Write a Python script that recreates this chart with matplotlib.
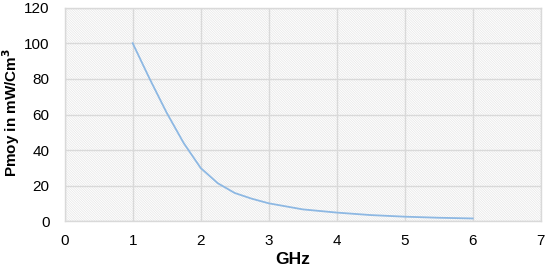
import numpy as np
import matplotlib
matplotlib.use("Agg")
import matplotlib.pyplot as plt
from matplotlib.patches import Rectangle

plt.rcParams['font.family'] = ['Liberation Sans', 'DejaVu Sans']
plt.rcParams['hatch.linewidth'] = 0.5
plt.rcParams['hatch.color'] = '#e6e6e6'

# valeurs
ghz = [1, 1.25, 1.5, 1.75, 2, 2.25, 2.5, 2.75, 3, 3.5, 4, 4.5, 5, 5.5, 6]
pmoy = [100, 80, 61, 44, 30, 21.5, 16, 12.8, 10.2, 6.8, 5, 3.6, 2.7, 2.1, 1.7]

xticks = [0, 1, 2, 3, 4, 5, 6, 7]
yticks = [0, 20, 40, 60, 80, 100, 120]

fig = plt.figure(figsize=(5.48, 2.69), dpi=100)
ax = fig.add_axes([0.118, 0.1766, 0.8687, 0.7954])

# fond hachuré
ax.add_patch(Rectangle((0, 0), 1, 1, transform=ax.transAxes, facecolor='white',
                       edgecolor='#e6e6e6', hatch='\\' * 14, linewidth=0, zorder=0))

ax.plot(ghz, pmoy, color='#8db8e3', linewidth=1.3, zorder=3)

ax.set_xlim(0, 7)
ax.set_ylim(0, 120)
ax.set_xticks(xticks)
ax.set_yticks(yticks)
ax.grid(True, color='#d9d9d9', linewidth=1.0, zorder=1)
ax.set_axisbelow(True)
for s in ax.spines.values():
    s.set_color('#d9d9d9')
    s.set_linewidth(1.0)
ax.tick_params(length=0, labelsize=11, colors='#000000')
ax.tick_params(axis='x', pad=9)
ax.tick_params(axis='y', pad=11)

ax.set_xlabel('GHz', fontsize=12.5, fontweight='bold')
ax.xaxis.set_label_coords(0.479, -0.143)
ax.set_ylabel('Pmoy in mW/Cm$^\\mathbf{3}$', fontsize=11, fontweight='bold')
ax.yaxis.set_label_coords(-0.09, 0.509)

fig.savefig('out.png', dpi=100)
